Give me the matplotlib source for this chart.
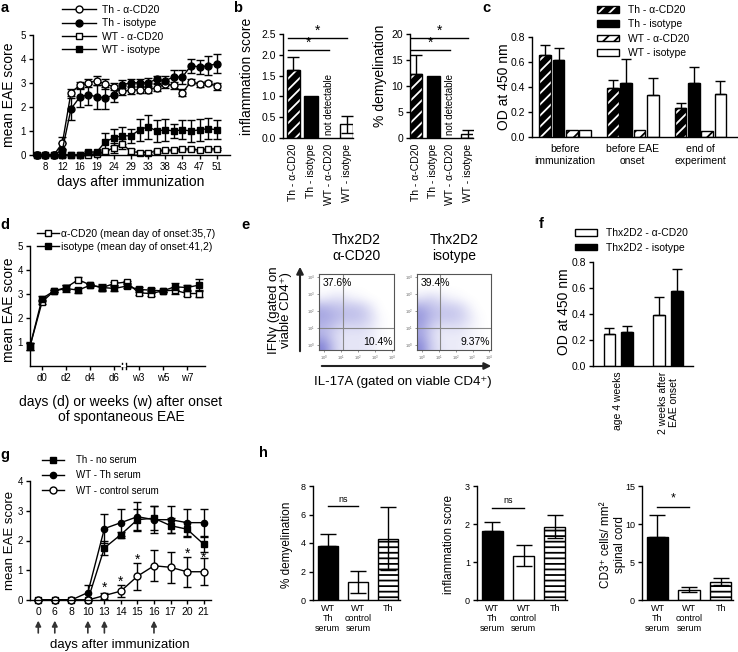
import matplotlib
matplotlib.use("Agg")
import matplotlib.pyplot as plt
import numpy as np
from matplotlib.lines import Line2D
from matplotlib.patches import Patch
from matplotlib.legend_handler import HandlerTuple
from matplotlib.colors import LinearSegmentedColormap

plt.rcParams['font.family'] = ['Liberation Sans', 'DejaVu Sans']
plt.rcParams['mathtext.fontset'] = 'custom'
plt.rcParams['mathtext.rm'] = 'Liberation Sans'
plt.rcParams['hatch.linewidth'] = 1.3
plt.rcParams['axes.linewidth'] = 1.0

W, H = 738, 652

# ---------------- data ----------------
# a: EAE course
a_days = [6, 8, 10, 12, 14, 16, 17, 19, 22, 24, 26, 29, 31, 33, 36, 38, 40, 43, 45, 47, 49, 51]
a_th_cd20 = [0, 0, 0, 0.5, 2.6, 2.9, 3.0, 3.1, 2.95, 2.85, 2.65, 2.7, 2.72, 2.72, 2.8, 2.95, 2.9, 2.6, 3.05, 2.95, 3.0, 2.87]
a_th_cd20_err = [0, 0, 0, 0.25, 0.15, 0.15, 0.15, 0.2, 0.2, 0.15, 0.15, 0.15, 0.15, 0.15, 0.15, 0.15, 0.15, 0.15, 0.1, 0.1, 0.1, 0.15]
a_th_iso = [0, 0, 0, 0.22, 1.92, 2.4, 2.52, 2.42, 2.38, 2.5, 2.92, 3.02, 3.0, 3.02, 3.15, 3.1, 3.25, 3.25, 3.72, 3.67, 3.72, 3.8]
a_th_iso_err = [0, 0, 0, 0.3, 0.45, 0.4, 0.45, 0.5, 0.45, 0.3, 0.2, 0.15, 0.15, 0.2, 0.15, 0.2, 0.3, 0.3, 0.3, 0.3, 0.4, 0.4]
a_wt_cd20 = [0, 0, 0, 0, 0, 0, 0, 0.05, 0.15, 0.3, 0.45, 0.15, 0.1, 0.1, 0.15, 0.2, 0.2, 0.25, 0.25, 0.2, 0.25, 0.25]
a_wt_cd20_err = [0, 0, 0, 0, 0, 0, 0, 0.05, 0.1, 0.2, 0.2, 0.1, 0.05, 0.05, 0.05, 0.05, 0.05, 0.05, 0.05, 0.05, 0.05, 0.05]
a_wt_iso = [0, 0, 0, 0, 0, 0, 0.12, 0.12, 0.55, 0.72, 0.8, 0.8, 1.05, 1.18, 1.0, 1.05, 1.0, 1.05, 1.0, 1.05, 1.1, 1.05]
a_wt_iso_err = [0, 0, 0, 0, 0, 0, 0.05, 0.05, 0.35, 0.35, 0.35, 0.3, 0.45, 0.5, 0.45, 0.45, 0.3, 0.4, 0.45, 0.45, 0.45, 0.4]

# b: histology
b_labels = ['Th - α-CD20', 'Th - isotype', 'WT - α-CD20', 'WT - isotype']
b_kinds = ['bw', 'black', None, 'white']
b_inflam = [1.63, 1.0, 0.0, 0.33]
b_inflam_up = [0.32, 0.0, 0.0, 0.2]
b_inflam_lo = [0.0, 0.0, 0.0, 0.2]
b_inflam_sig = [2.40, 2.12]
b_demyel = [12.3, 12.0, 0.0, 0.8]
b_demyel_up = [3.7, 0.0, 0.0, 0.8]
b_demyel_lo = [0.0, 0.0, 0.0, 0.8]
b_demyel_sig = [19.2, 16.9]

# c: ELISA
c_groups = ['before\nimmunization', 'before EAE\nonset', 'end of\nexperiment']
c_series = ['Th - α-CD20', 'Th - isotype', 'WT - α-CD20', 'WT - isotype']
c_kinds = ['bw', 'black', 'wb', 'white']
c_vals = [[0.66, 0.39, 0.23], [0.615, 0.435, 0.43], [0.055, 0.06, 0.05], [0.055, 0.34, 0.345]]
c_errs = [[0.08, 0.07, 0.045], [0.095, 0.19, 0.13], [0, 0, 0], [0, 0.13, 0.105]]

# d: spontaneous EAE
d_ticklabels = ['d0', 'd2', 'd4', 'd6', 'w3', 'w5', 'w7']
d_cd20 = [0.82, 2.67, 3.13, 3.27, 3.6, 3.37, 3.27, 3.44, 3.5, 3.05, 3.02, 3.13, 3.16, 3.02, 3.02]
d_cd20_err = [0.15, 0.1, 0.05, 0.1, 0.1, 0.05, 0.1, 0.05, 0.05, 0.1, 0.1, 0.05, 0.15, 0.1, 0.15]
d_iso = [0.82, 2.81, 3.13, 3.23, 3.16, 3.37, 3.27, 3.23, 3.33, 3.19, 3.16, 3.13, 3.3, 3.27, 3.37]
d_iso_err = [0.15, 0.1, 0.05, 0.15, 0.1, 0.05, 0.15, 0.1, 0.1, 0.1, 0.1, 0.05, 0.15, 0.1, 0.25]

# e: flow cytometry, coarse density (rows bottom -> top)
e_dens_cd20 = [[0.95, 0.45, 0.2, 0.2, 0.2, 0.15, 0.05, 0],
               [0.6, 0.35, 0.2, 0.2, 0.2, 0.15, 0.05, 0],
               [0.55, 0.45, 0.3, 0.3, 0.3, 0.2, 0.05, 0],
               [0.7, 0.6, 0.5, 0.5, 0.45, 0.3, 0.05, 0],
               [0.6, 0.5, 0.45, 0.45, 0.4, 0.2, 0, 0],
               [0.1, 0.2, 0.2, 0.1, 0.05, 0, 0, 0],
               [0, 0, 0, 0, 0, 0, 0, 0],
               [0, 0, 0, 0, 0, 0, 0, 0]]
e_dens_iso = [[0.9, 0.4, 0.2, 0.15, 0.15, 0.1, 0.05, 0],
              [0.7, 0.35, 0.15, 0.15, 0.15, 0.1, 0.05, 0],
              [0.7, 0.4, 0.25, 0.25, 0.25, 0.15, 0.05, 0],
              [0.8, 0.55, 0.45, 0.45, 0.4, 0.25, 0.05, 0],
              [0.65, 0.5, 0.4, 0.4, 0.35, 0.15, 0, 0],
              [0.2, 0.3, 0.2, 0.1, 0.05, 0, 0, 0],
              [0, 0, 0, 0, 0, 0, 0, 0],
              [0, 0, 0, 0, 0, 0, 0, 0]]
e_pct = [('37.6%', '10.4%'), ('39.4%', '9.37%')]
e_titles = ['Thx2D2\nα-CD20', 'Thx2D2\nisotype']

# f: ELISA Thx2D2
f_groups = ['age 4 weeks', '2 weeks after\nEAE onset']
f_cd20 = [0.245, 0.39]
f_cd20_err = [0.045, 0.14]
f_iso = [0.265, 0.58]
f_iso_err = [0.045, 0.17]

# g: serum transfer
g_days = [0, 6, 8, 10, 13, 14, 15, 16, 17, 20, 21]
g_th_none = [0, 0, 0, 0, 1.75, 2.2, 2.7, 2.75, 2.5, 2.38, 1.88]
g_th_none_err = [0, 0, 0, 0, 0.25, 0.1, 0.35, 0.4, 0.25, 0.25, 0.25]
g_wt_th = [0, 0, 0, 0.25, 2.4, 2.6, 2.8, 2.7, 2.7, 2.6, 2.6]
g_wt_th_err = [0, 0, 0, 0.25, 0.48, 0.45, 0.48, 0.45, 0.45, 0.45, 0.45]
g_wt_ctrl = [0, 0, 0, 0, 0.15, 0.3, 0.8, 1.15, 1.1, 0.95, 0.95]
g_wt_ctrl_err = [0, 0, 0, 0, 0.1, 0.2, 0.45, 0.52, 0.53, 0.5, 0.45]
g_arrow_days = [0, 6, 10, 13, 16]
g_star_days = [13, 14, 15, 20, 21]
g_star_y = [0.4, 0.62, 1.35, 1.57, 1.43]

# h: histology after serum transfer
h_labels = ['WT\nTh\nserum', 'WT\ncontrol\nserum', 'Th']
h_kinds = ['black', 'white', 'stripe']
h_demyel = [3.8, 1.25, 4.3]
h_demyel_up = [0.85, 0.78, 2.25]
h_demyel_lo = [0, 0.78, 2.2]
h_inflam = [1.82, 1.17, 1.93]
h_inflam_up = [0.22, 0.28, 0.3]
h_inflam_lo = [0, 0.28, 0.3]
h_cd3 = [8.3, 1.35, 2.4]
h_cd3_up = [2.9, 0.3, 0.45]
h_cd3_lo = [0, 0.3, 0.45]

# ---------------- helpers ----------------
fig = plt.figure(figsize=(W / 100, H / 100), dpi=100)


def px_axes(left, top, right, bottom):
    return fig.add_axes([left / W, 1 - bottom / H, (right - left) / W, (bottom - top) / H])


def ftext(x, y, s, **kw):
    kw.setdefault('ha', 'center')
    kw.setdefault('va', 'center')
    return fig.text(x / W, 1 - y / H, s, **kw)


def clean(ax, size=7):
    ax.spines['top'].set_visible(False)
    ax.spines['right'].set_visible(False)
    ax.tick_params(direction='out', length=3, width=1, labelsize=size, pad=2)


def unclip(ax):
    for art in ax.lines + list(ax.collections):
        art.set_clip_on(False)


def draw_bar(ax, x, h, w, kind):
    if kind == 'black':
        ax.bar(x, h, w, color='black', edgecolor='black', lw=1)
    elif kind == 'white':
        ax.bar(x, h, w, color='white', edgecolor='black', lw=1)
    elif kind == 'bw':
        ax.bar(x, h, w, color='black', edgecolor='white', hatch='///', lw=0)
        ax.bar(x, h, w, color='none', edgecolor='black', lw=1)
    elif kind == 'wb':
        ax.bar(x, h, w, color='white', edgecolor='black', hatch='///', lw=1)
    elif kind == 'stripe':
        ax.bar(x, h, w, color='white', edgecolor='black', hatch='---', lw=1)


def err(ax, x, y, lo, up, cap):
    if lo == 0 and up == 0:
        return
    ax.errorbar([x], [y], yerr=[[lo], [up]], fmt='none', ecolor='black',
                elinewidth=1, capsize=cap, capthick=1, zorder=3)


def legend_handle(kind):
    if kind == 'bw':
        return (Patch(facecolor='black', edgecolor='white', hatch='///', lw=0),
                Patch(facecolor='none', edgecolor='black', lw=1))
    if kind == 'wb':
        return Patch(facecolor='white', edgecolor='black', hatch='///', lw=1)
    if kind == 'black':
        return Patch(facecolor='black', edgecolor='black', lw=1)
    return Patch(facecolor='white', edgecolor='black', lw=1)


# panel letters
for s, x, y in [('a', 5, 8), ('b', 238, 8), ('c', 486, 8), ('d', 5, 225),
                ('e', 246, 225), ('f', 541, 224), ('g', 5, 455), ('h', 263, 453)]:
    ftext(x, y, s, fontsize=10.5, weight='bold')

# ---------------- a ----------------
ax = px_axes(33, 35, 230, 155)
clean(ax)
xa = np.arange(len(a_days))
for y, e, m, fc in [(a_wt_cd20, a_wt_cd20_err, 's', 'white'),
                    (a_wt_iso, a_wt_iso_err, 's', 'black'),
                    (a_th_cd20, a_th_cd20_err, 'o', 'white'),
                    (a_th_iso, a_th_iso_err, 'o', 'black')]:
    ax.errorbar(xa, y, yerr=e, fmt='-' + m, color='black', mfc=fc, mec='black', ms=5,
                mew=1, lw=1, elinewidth=1, capsize=2.8, capthick=1)
ax.set_xlim(-0.43, 22.55)
ax.set_ylim(0, 5)
ax.set_xticks(xa[1::2])
ax.set_xticklabels([str(d) for d in a_days[1::2]])
ax.set_yticks(range(6))
unclip(ax)
ftext(9, 95, 'mean EAE score', rotation=90, fontsize=10)
ftext(131, 182, 'days after immunization', fontsize=10)
a_handles = [Line2D([], [], color='black', lw=1, marker='o', mfc='white', mec='black', ms=5),
             Line2D([], [], color='black', lw=1, marker='o', mfc='black', mec='black', ms=5),
             Line2D([], [], color='black', lw=1, marker='s', mfc='white', mec='black', ms=5),
             Line2D([], [], color='black', lw=1, marker='s', mfc='black', mec='black', ms=5)]
ax.legend(a_handles, ['Th - α-CD20', 'Th - isotype', 'WT - α-CD20', 'WT - isotype'],
          loc='upper left', bbox_to_anchor=(62 / W, 1 - 5 / H), bbox_transform=fig.transFigure,
          frameon=False, fontsize=7.5, handlelength=3.3, handletextpad=0.5,
          labelspacing=0.32, borderaxespad=0, borderpad=0, numpoints=1)

# ---------------- b ----------------
for (left, right, xl, vals, up, lo, sig, ylim, yticks, fmt, ylabel, ylx) in [
        (283, 353, (-0.58, 3.36), b_inflam, b_inflam_up, b_inflam_lo, b_inflam_sig,
         2.5, np.arange(0, 2.6, 0.5), '%.1f', 'inflammation score', 247),
        (410, 473, (-0.35, 3.31), b_demyel, b_demyel_up, b_demyel_lo, b_demyel_sig,
         20, np.arange(0, 21, 5), '%d', '% demyelination', 380)]:
    ax = px_axes(left, 34, right, 138)
    clean(ax, 7.5)
    for i, k in enumerate(b_kinds):
        if k is None:
            continue
        draw_bar(ax, i, vals[i], 0.74, k)
        err(ax, i, vals[i], lo[i], up[i], 4)
    ax.text(2, ylim * 0.03, 'not detectable', rotation=90, ha='center', va='bottom', fontsize=7)
    for yv, end in zip(sig, [3, 2]):
        ax.plot([-0.3, end], [yv, yv], color='black', lw=1)
        ax.text((end - 0.3) / 2, yv, '*', ha='center', va='bottom', fontsize=10)
    ax.set_xlim(*xl)
    ax.set_ylim(0, ylim)
    ax.set_yticks(yticks)
    ax.set_yticklabels([fmt % t for t in yticks])
    ax.set_xticks(range(4))
    ax.set_xticklabels(b_labels, rotation=90, fontsize=7.5)
    ax.tick_params(axis='x', length=0, pad=4)
    ftext(ylx, 76, ylabel, rotation=90, fontsize=10)

# ---------------- c ----------------
ax = px_axes(532, 37, 737, 137)
clean(ax, 7.5)
offs = [-0.295, -0.098, 0.098, 0.295]
for j in range(4):
    for g in range(3):
        draw_bar(ax, g + offs[j], c_vals[j][g], 0.173, c_kinds[j])
        err(ax, g + offs[j], c_vals[j][g], 0, c_errs[j][g], 3.6)
ax.set_xlim(-0.49, 2.54)
ax.set_ylim(0, 0.8)
ax.set_yticks(np.arange(0, 0.81, 0.2))
ax.set_yticklabels(['%.1f' % t for t in np.arange(0, 0.81, 0.2)])
ax.set_xticks(range(3))
ax.set_xticklabels(c_groups, fontsize=7.5, linespacing=1.3)
ax.tick_params(axis='x', length=0, pad=5)
ftext(504, 87, 'OD at 450 nm', rotation=90, fontsize=10)
ax.legend([legend_handle(k) for k in c_kinds], c_series, loc='upper left',
          bbox_to_anchor=(597 / W, 1 - 5 / H), bbox_transform=fig.transFigure,
          frameon=False, fontsize=7.5, handlelength=2.1, handleheight=0.6,
          handletextpad=0.9, labelspacing=0.42, borderaxespad=0, borderpad=0,
          handler_map={tuple: HandlerTuple(ndivide=1)})

# ---------------- d ----------------
ax = px_axes(30, 246, 205, 366)
clean(ax)
xd = np.arange(len(d_cd20))
ax.errorbar(xd, d_cd20, yerr=d_cd20_err, fmt='-s', color='black', mfc='white', mec='black',
            ms=5, mew=1, lw=1, elinewidth=1, capsize=2.8, capthick=1)
ax.errorbar(xd, d_iso, yerr=d_iso_err, fmt='-s', color='black', mfc='black', mec='black',
            ms=5, mew=1, lw=1, elinewidth=1, capsize=2.8, capthick=1)
ax.set_xlim(0, 14.5)
ax.set_ylim(0, 5)
ax.set_yticks(range(1, 6))
ax.set_xticks(xd[1::2])
ax.set_xticklabels(d_ticklabels)
unclip(ax)
for xb in [7.62, 7.92]:
    ax.plot([xb, xb], [-0.12, 0.12], color='black', lw=1, clip_on=False)
ax.plot([7.64, 7.9], [0, 0], color='white', lw=1.6, clip_on=False, zorder=3)
ftext(9, 310, 'mean EAE score', rotation=90, fontsize=10)
ftext(121, 402, 'days (d) or weeks (w) after onset', fontsize=10)
ftext(121, 417, 'of spontaneous EAE', fontsize=10)
d_handles = [Line2D([], [], color='black', lw=1, marker='s', mfc='white', mec='black', ms=5),
             Line2D([], [], color='black', lw=1, marker='s', mfc='black', mec='black', ms=5)]
ax.legend(d_handles, ['α-CD20 (mean day of onset:35,7)', 'isotype (mean day of onset:41,2)'],
          loc='upper left', bbox_to_anchor=(37 / W, 1 - 229 / H), bbox_transform=fig.transFigure,
          frameon=False, fontsize=7.5, handlelength=2.1, handletextpad=0.2,
          labelspacing=0.3, borderaxespad=0, borderpad=0, numpoints=1)

# ---------------- e ----------------
flow_cmap = LinearSegmentedColormap.from_list('flow', ['white', '#4a4ac4'])
for (left, right, dens, pct, title, gx) in [
        (319, 394, e_dens_cd20, e_pct[0], e_titles[0], 1.1),
        (417, 491, e_dens_iso, e_pct[1], e_titles[1], 1.08)]:
    ax = px_axes(left, 274, right, 350)
    ax.imshow(np.array(dens), origin='lower', extent=(-0.3, 4.1, -0.3, 4.15), cmap=flow_cmap,
              vmin=0, vmax=1.4, interpolation='bicubic', aspect='auto')
    ax.axvline(gx, color='#888888', lw=0.8)
    ax.axhline(1.0, color='#888888', lw=0.8)
    ax.set_xlim(-0.3, 4.1)
    ax.set_ylim(-0.3, 4.15)
    for s in ax.spines.values():
        s.set_color('#555555')
        s.set_linewidth(0.8)
    ax.set_xticks(range(5))
    ax.set_yticks(range(5))
    ax.set_xticklabels([r'$10^{%d}$' % i for i in range(5)])
    ax.set_yticklabels([r'$10^{%d}$' % i for i in range(5)])
    ax.tick_params(labelsize=3, length=1.5, width=0.5, pad=1, colors='#666666')
    ax.text(0.05, 0.95, pct[0], transform=ax.transAxes, ha='left', va='top', fontsize=7.5)
    ax.text(0.98, 0.04, pct[1], transform=ax.transAxes, ha='right', va='bottom', fontsize=7.5)
    ftext((left + right) / 2, 248, title, fontsize=10, linespacing=1.2)
fig.add_artist(matplotlib.patches.FancyArrowPatch((300 / W, 1 - 354 / H), (300 / W, 1 - 264 / H),
               transform=fig.transFigure, arrowstyle='-|>', mutation_scale=10, lw=1.5, color='#222222'))
fig.add_artist(matplotlib.patches.FancyArrowPatch((319 / W, 1 - 366 / H), (494 / W, 1 - 366 / H),
               transform=fig.transFigure, arrowstyle='-|>', mutation_scale=10, lw=1.5, color='#222222'))
ftext(280, 310, 'IFNγ (gated on\nviable CD4⁺)', rotation=90, fontsize=9.5, linespacing=1.1)
ftext(403, 382, 'IL-17A (gated on viable CD4⁺)', fontsize=9.5)

# ---------------- f ----------------
ax = px_axes(593, 262, 693, 366)
clean(ax, 7.5)
for g in range(2):
    draw_bar(ax, g - 0.18, f_cd20[g], 0.235, 'white')
    err(ax, g - 0.18, f_cd20[g], 0, f_cd20_err[g], 3.6)
    draw_bar(ax, g + 0.18, f_iso[g], 0.235, 'black')
    err(ax, g + 0.18, f_iso[g], 0, f_iso_err[g], 3.6)
ax.set_xlim(-0.51, 1.5)
ax.set_ylim(0, 0.8)
ax.set_yticks(np.arange(0, 0.81, 0.2))
ax.set_yticklabels(['%.1f' % t for t in np.arange(0, 0.81, 0.2)])
ax.set_xticks(range(2))
ax.set_xticklabels(f_groups, rotation=90, fontsize=7.5, linespacing=1.1)
ax.tick_params(axis='x', length=0, pad=4)
ftext(564, 312, 'OD at 450 nm', rotation=90, fontsize=10)
ax.legend([legend_handle('white'), legend_handle('black')],
          ['Thx2D2 - α-CD20', 'Thx2D2 - isotype'], loc='upper left',
          bbox_to_anchor=(575 / W, 1 - 228 / H), bbox_transform=fig.transFigure,
          frameon=False, fontsize=7.5, handlelength=2.1, handleheight=0.6,
          handletextpad=0.9, labelspacing=0.45, borderaxespad=0, borderpad=0)

# ---------------- g ----------------
ax = px_axes(30, 481, 211, 600)
clean(ax)
xg = np.arange(len(g_days))
ax.errorbar(xg, g_th_none, yerr=g_th_none_err, fmt='-s', color='black', mfc='black',
            mec='black', ms=4.5, mew=1, lw=1, elinewidth=1, capsize=3.2, capthick=1)
ax.errorbar(xg, g_wt_th, yerr=g_wt_th_err, fmt='-o', color='black', mfc='black',
            mec='black', ms=4.5, mew=1, lw=1, elinewidth=1, capsize=3.2, capthick=1)
ax.errorbar(xg, g_wt_ctrl, yerr=g_wt_ctrl_err, fmt='-o', color='black', mfc='white',
            mec='black', ms=5, mew=1, lw=1, elinewidth=1, capsize=3.2, capthick=1)
for d, yv in zip(g_star_days, g_star_y):
    ax.text(g_days.index(d), yv, '*', ha='center', va='center', fontsize=10)
ax.set_xlim(-0.5, 10.45)
ax.set_ylim(0, 4)
ax.set_yticks(range(5))
ax.set_xticks(xg)
ax.set_xticklabels([str(d) for d in g_days], fontsize=7.5)
unclip(ax)
for d in g_arrow_days:
    ax.annotate('', xy=(g_days.index(d), -0.15), xytext=(g_days.index(d), -0.3),
                xycoords=ax.get_xaxis_transform(), annotation_clip=False,
                arrowprops=dict(arrowstyle='-|>', color='#333333', lw=1.2, mutation_scale=8))
ftext(10, 540, 'mean EAE score', rotation=90, fontsize=9.5)
ftext(120, 645, 'days after immunization', fontsize=9.5)
g_handles = [Line2D([], [], color='black', lw=1, marker='s', mfc='black', mec='black', ms=4.5),
             Line2D([], [], color='black', lw=1, marker='o', mfc='black', mec='black', ms=4.5),
             Line2D([], [], color='black', lw=1, marker='o', mfc='white', mec='black', ms=5)]
ax.legend(g_handles, ['Th - no serum', 'WT - Th serum', 'WT - control serum'],
          loc='upper left', bbox_to_anchor=(42 / W, 1 - 455 / H), bbox_transform=fig.transFigure,
          frameon=False, fontsize=7, handlelength=2.3, handletextpad=1.2,
          labelspacing=0.55, borderaxespad=0, borderpad=0, numpoints=1)

# ---------------- h ----------------
for (left, right, vals, up, lo, ylim, yticks, sig, sig_txt, ylabel, ylx) in [
        (313, 400, h_demyel, h_demyel_up, h_demyel_lo, 8, [0, 2, 4, 6, 8], 6.6, 'ns',
         '% demyelination', 287),
        (477, 567, h_inflam, h_inflam_up, h_inflam_lo, 3, [0, 1, 2, 3], 2.43, 'ns',
         'inflammation score', 449),
        (642, 733, h_cd3, h_cd3_up, h_cd3_lo, 15, [0, 5, 10, 15], 12.3, '*',
         'CD3⁺ cells/ mm²\nspinal cord', 613)]:
    ax = px_axes(left, 486, right, 600)
    clean(ax, 6.5)
    for i, k in enumerate(h_kinds):
        draw_bar(ax, i, vals[i], 0.68, k)
        err(ax, i, vals[i], lo[i], up[i], 6)
    ax.plot([0, 1], [sig, sig], color='black', lw=1)
    ax.text(0.5, sig + ylim * 0.02, sig_txt, ha='center', va='bottom',
            fontsize=6.5 if sig_txt == 'ns' else 9)
    ax.set_xlim(-0.49, 2.39)
    ax.set_ylim(0, ylim)
    ax.set_yticks(yticks)
    ax.set_xticks(range(3))
    ax.set_xticklabels(h_labels, fontsize=6.5, linespacing=1.15)
    ax.tick_params(axis='x', length=0, pad=3)
    ftext(ylx, 545, ylabel, rotation=90, fontsize=8.5, linespacing=1.15)

fig.savefig('out.png', dpi=100)
